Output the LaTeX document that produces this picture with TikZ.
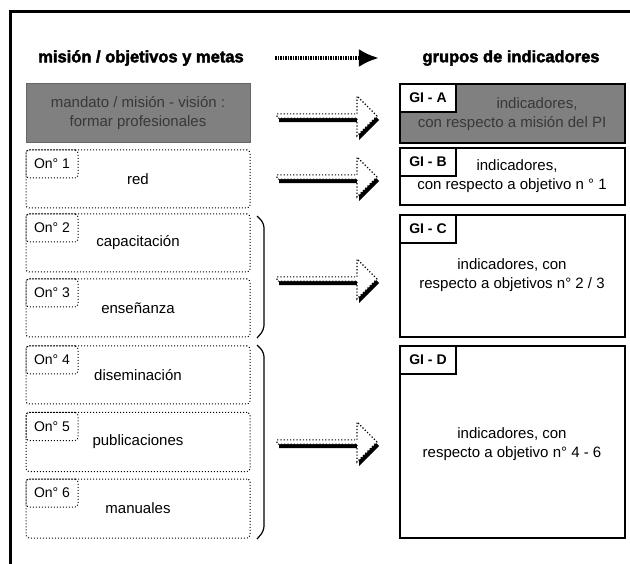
\documentclass[tikz,border=0pt]{standalone}
\usepackage{fontspec}
\setmainfont{Liberation Sans}
\newfontfamily\heavyfont[FakeBold=2.5]{Liberation Sans Bold}
\usetikzlibrary{arrows.meta,shapes.arrows,shadows}

\tikzset{
	hdr/.style={font=\fontsize{16.5}{18}\heavyfont},
	txt/.style={font=\fontsize{15}{19}\selectfont, align=center},
	objbox/.style={draw, dotted, line width=1pt, rounded corners=3pt,
		minimum width=224pt, inner sep=0pt},
	objlbl/.style={draw, dotted, line width=1pt, rounded corners=3pt,
		minimum width=52pt, minimum height=28pt, anchor=north west,
		font=\fontsize{14}{16}\selectfont, inner sep=0pt},
	grpbox/.style={draw, line width=1.2pt, minimum width=225pt, inner sep=0pt},
	grplbl/.style={draw, fill=white, line width=1.2pt, minimum width=56pt,
		minimum height=28pt, anchor=north west,
		font=\fontsize{14}{16}\selectfont\bfseries, inner sep=0pt},
	grayfill/.style={fill=black!50, text=black!78},
	blockarrow/.style={single arrow, draw, dotted, line width=1.2pt, fill=white,
		minimum height=100pt, minimum width=40pt,
		single arrow head extend=5pt, single arrow head indent=0pt,
		inner sep=0pt,
		drop shadow={shadow xshift=2pt, shadow yshift=-4pt, fill=black, opacity=1}},
}

\begin{document}
\begin{tikzpicture}[x=1pt, y=-1pt]

% frame %{{{2

	\useasboundingbox (0,0) rectangle (630,564);
	\draw[line width=3pt] (10,564) |- (632,12);

% headers %{{{2

	\node[hdr] (hl) at (141,58) {misión / objetivos y metas};
	\node[hdr] (hr) at (511,58) {grupos de indicadores};

	\draw[line width=4pt, dash pattern=on 1.5pt off 1pt,
		-{Latex[length=20pt, width=18pt]}, shorten <=28pt, shorten >=40pt]
		(hl) -- (hr);

% mision and objectives %{{{2

	\node[objbox, grayfill, draw=black!60, solid, rounded corners=0pt,
		minimum height=59pt, txt, text=black!78] (om) at (138,113.5)
		{mandato / misión - visión :\\formar profesionales};

	\foreach \i/\y/\h/\t in {1/179/58/red, 2/243/58/capacitación,
		3/308/58/enseñanza, 4/375/58/diseminación,
		5/442/59/publicaciones, 6/508.5/59/manuales} {
		\node[objbox, minimum height=\h pt] (o\i) at (138,\y) {};
		\node[txt] at (o\i) {\t};
		\node[objlbl] (l\i) at (o\i.north west) {On° \i};
	}

% brackets %{{{2

	\draw[line width=1.2pt, rounded corners=5pt]
		(257,216) -- (264,223) -- (264,330) -- (257,338);
	\draw[line width=1.2pt, rounded corners=5pt]
		(257,345) -- (264,352) -- (264,531) -- (257,539);

% indicator groups %{{{2

	\node[grpbox, grayfill, minimum height=59pt] (ga) at (512.5,113.5) {};
	\node[grpbox, minimum height=57pt] (gb) at (512.5,176.5) {};
	\node[grpbox, minimum height=122pt] (gc) at (512.5,276) {};
	\node[grpbox, minimum height=192pt] (gd) at (512.5,442) {};

	\node[grplbl] (la) at (ga.north west) {GI - A};
	\node[grplbl] (lb) at (gb.north west) {GI - B};
	\node[grplbl] (lc) at (gc.north west) {GI - C};
	\node[grplbl] (ld) at (gd.north west) {GI - D};

	\node[txt, text=black!78] at (512,114) {\hspace*{50pt}indicadores,\\con respecto a misión del PI};
	\node[txt] at (512,176) {\hspace*{10pt}indicadores,\\con respecto a objetivo n ° 1};
	\node[txt] at (512,275) {indicadores, con\\respecto a objetivos n° 2 / 3};
	\node[txt] at (512,444) {indicadores, con\\respecto a objetivo n° 4 - 6};

% arrows %{{{2

	\node[blockarrow] (a1) at (326,116) {};
	\node[blockarrow] (a2) at (326,177) {};
	\node[blockarrow] (a3) at (326,279) {};
	\node[blockarrow] (a4) at (326,442) {};

% closing %{{{2

\end{tikzpicture}
\end{document}
